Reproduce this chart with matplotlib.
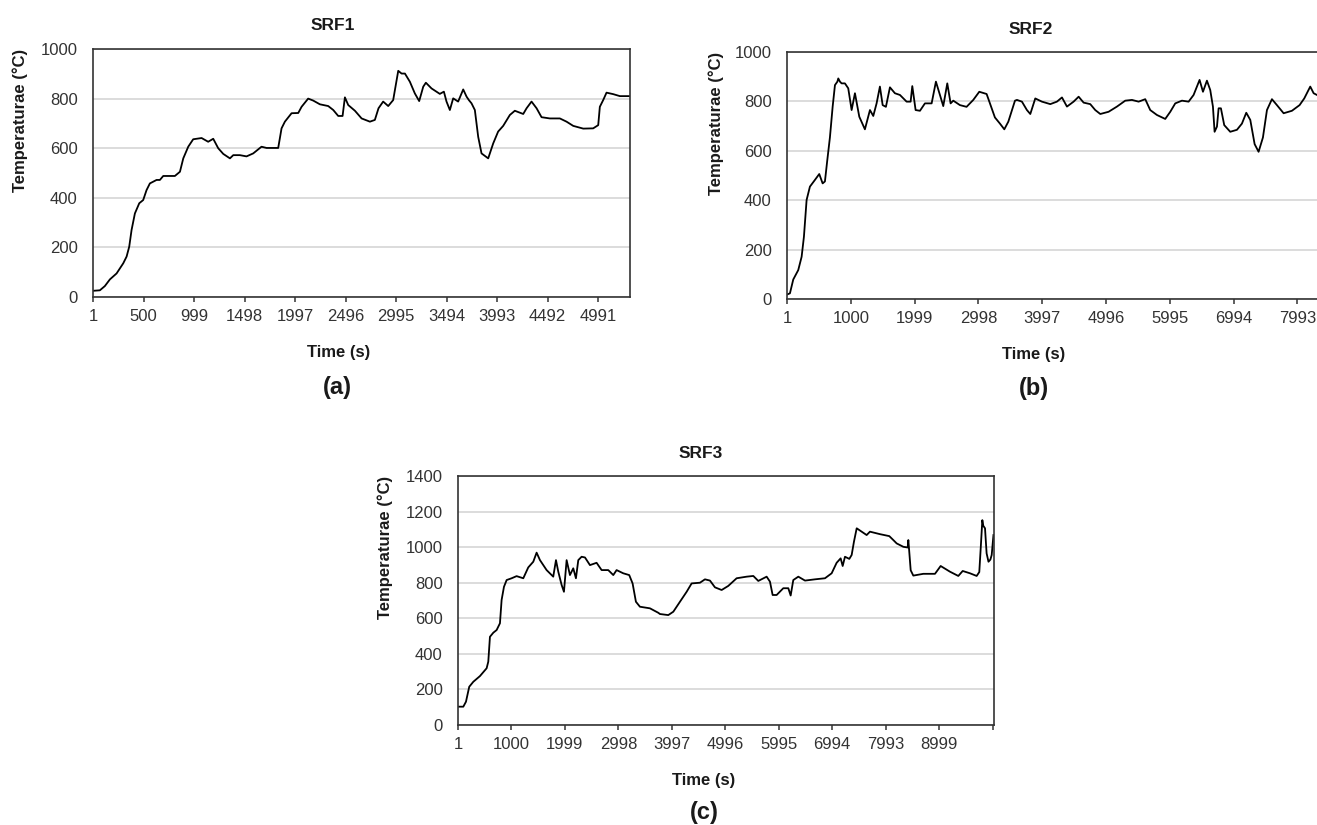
import matplotlib
matplotlib.use("Agg")
import matplotlib.pyplot as plt

plt.rcParams['font.family'] = ['Liberation Sans', 'DejaVu Sans']

# ---------------- data ----------------
srf1_time = [1, 69, 118, 168, 234, 300, 333, 359, 382, 415, 458, 497, 530, 563, 629, 662, 695, 810,
             860, 893, 942, 991, 1074, 1139, 1189, 1238, 1288, 1354, 1387, 1452, 1518, 1584, 1666,
             1716, 1831, 1864, 1897, 1963, 2029, 2062, 2127, 2177, 2243, 2325, 2375, 2424, 2467,
             2490, 2523, 2589, 2655, 2737, 2786, 2822, 2868, 2918, 2967, 3017, 3050, 3083, 3132,
             3181, 3224, 3264, 3290, 3346, 3428, 3468, 3494, 3527, 3560, 3609, 3659, 3692, 3715,
             3741, 3774, 3807, 3840, 3906, 3955, 4004, 4054, 4120, 4169, 4252, 4285, 4334, 4384,
             4433, 4515, 4614, 4680, 4746, 4845, 4943, 4993, 5009, 5042, 5075, 5141, 5207, 5306]
srf1_temp = [25, 27, 44, 71, 95, 136, 163, 203, 270, 337, 378, 391, 431, 458, 472, 472, 488, 488,
             505, 559, 606, 636, 641, 626, 638, 600, 577, 559, 572, 572, 567, 579, 606,
             601, 601, 680, 707, 741, 742, 767, 800, 792, 777, 770, 754, 730, 730,
             805, 774, 751, 720, 707, 714, 761, 788, 770, 794, 912, 901, 901, 868,
             821, 790, 848, 864, 841, 819, 828, 788, 754, 801, 788, 837, 808, 794,
             781, 754, 646, 579, 559, 619, 667, 690, 734, 751, 738, 761, 788, 761,
             725, 720, 720, 707, 690, 679, 680, 693, 767, 794, 824, 818, 810, 810]

srf2_time = [1, 47, 99, 177, 230, 266, 308, 360, 438, 506, 559, 595, 631, 673, 716, 752, 790, 804,
             830, 856, 908, 960, 1013, 1065, 1133, 1221, 1300, 1352, 1404, 1456, 1499, 1550, 1613,
             1691, 1770, 1874, 1937, 1963, 2015, 2083, 2161, 2266, 2333, 2396, 2448, 2511, 2563,
             2605, 2709, 2813, 2918, 3012, 3127, 3179, 3257, 3336, 3404, 3467, 3571, 3602, 3680,
             3758, 3811, 3889, 3993, 4124, 4228, 4307, 4385, 4489, 4568, 4646, 4750, 4828, 4907,
             5037, 5168, 5298, 5403, 5507, 5611, 5689, 5794, 5924, 6003, 6081, 6186, 6290, 6368,
             6462, 6515, 6577, 6629, 6671, 6697, 6734, 6760, 6796, 6848, 6942, 7047, 7125, 7193,
             7256, 7324, 7386, 7454, 7517, 7595, 7673, 7778, 7908, 8028, 8101, 8195, 8248, 8300, 8380]
srf2_temp = [18, 23, 79, 117, 171, 252, 401, 455, 482, 506, 468, 476, 560, 654, 779, 866, 880, 893,
             880, 873, 873, 853, 765, 833, 738, 687, 765, 741, 792, 860, 785, 778, 857,
             833, 826, 799, 799, 862, 765, 762, 792, 792, 880, 826, 781, 873, 792,
             803, 785, 778, 806, 839, 830, 792, 735, 710, 687, 718, 803, 806, 799,
             765, 749, 812, 799, 789, 799, 816, 779, 799, 819, 795, 789, 765, 749,
             758, 779, 803, 806, 799, 809, 765, 745, 729, 758, 792, 803, 799, 826,
             887, 839, 884, 846, 779, 677, 698, 772, 772, 704, 677, 685, 710, 754,
             725, 627, 596, 654, 765, 809, 785, 752, 762, 785, 812, 860, 833, 826, 820]

srf3_time = [1, 100, 150, 211, 287, 411, 536, 567, 598, 661, 723, 785, 816, 860, 910, 1003, 1096,
             1221, 1314, 1408, 1470, 1533, 1657, 1781, 1832, 1875, 1938, 1981, 2031, 2093, 2155,
             2205, 2249, 2311, 2374, 2467, 2591, 2685, 2809, 2903, 2965, 3089, 3201, 3264, 3326,
             3401, 3588, 3744, 3775, 3931, 4025, 4149, 4274, 4367, 4523, 4616, 4710, 4803, 4928,
             5052, 5208, 5395, 5520, 5613, 5769, 5831, 5881, 5956, 6080, 6174, 6218, 6267, 6361,
             6486, 6672, 6859, 6984, 7077, 7152, 7190, 7233, 7314, 7358, 7401, 7452, 7545, 7638,
             7700, 7887, 8061, 8136, 8199, 8323, 8405, 8417, 8429, 8461, 8510, 8697, 8915, 9021,
             9195, 9351, 9433, 9569, 9694, 9743, 9775, 9800, 9818, 9850, 9880, 9915, 9950, 9975, 10008]
srf3_temp = [103, 103, 131, 215, 243, 275, 319, 356, 496, 519, 534, 572, 703, 777, 815, 825, 837,
             825, 886, 918, 969, 927, 871, 834, 927, 862, 787, 749, 927, 843, 881,
             825, 927, 946, 942, 899, 912, 871, 871, 843, 871, 853, 843, 796, 693,
             665, 656, 631, 624, 618, 637, 693, 749, 796, 800, 819, 812, 774, 759,
             782, 825, 834, 838, 810, 834, 806, 731, 731, 769, 769, 728, 815, 834,
             812, 819, 825, 853, 912, 937, 894, 946, 934, 956, 1031, 1106, 1087, 1068,
             1087, 1073, 1062, 1040, 1021, 1002, 998, 1040, 995, 870, 840, 850, 850, 894,
             862, 838, 866, 853, 838, 860, 1021, 1152, 1120, 1106, 965, 918, 930, 956, 1068]

srf1_ticks = [1, 500, 999, 1498, 1997, 2496, 2995, 3494, 3993, 4492, 4991]
srf1_ticklabels = ["1", "500", "999", "1498", "1997", "2496", "2995", "3494", "3993", "4492", "4991"]
srf2_ticks = [1, 1000, 1999, 2998, 3997, 4996, 5995, 6994, 7993]
srf2_ticklabels = ["1", "1000", "1999", "2998", "3997", "4996", "5995", "6994", "7993"]
srf3_ticks = [1, 1000, 1999, 2998, 3997, 4996, 5995, 6994, 7993, 8992, 9991]
srf3_ticklabels = ["1", "1000", "1999", "2998", "3997", "4996", "5995", "6994", "7993", "8999", ""]

titles = ["SRF1", "SRF2", "SRF3"]
panel_labels = ["(a)", "(b)", "(c)"]
ylabel_text = "Temperaturae (°C)"
xlabel_text = "Time (s)"

# ---------------- layout (pixels) ----------------
W, H = 1317, 825
fig = plt.figure(figsize=(W / 100, H / 100), dpi=100)


def rect(l, t, r, b):
    return [l / W, 1 - b / H, (r - l) / W, (b - t) / H]


panels = [
    dict(box=(93, 49, 630, 297), x=srf1_time, y=srf1_temp, xlim=(1, 5307), ymax=1000,
         ticks=srf1_ticks, labels=srf1_ticklabels,
         title_xy=(333, 25), xlab_xy=(339, 353), plab_xy=(337, 388), ylab_x=20),
    dict(box=(787, 52, 1322, 299), x=srf2_time, y=srf2_temp, xlim=(1, 8379), ymax=1000,
         ticks=srf2_ticks, labels=srf2_ticklabels,
         title_xy=(1031, 29), xlab_xy=(1034, 355), plab_xy=(1034, 389), ylab_x=716),
    dict(box=(458, 476, 994, 725), x=srf3_time, y=srf3_temp, xlim=(1, 10018), ymax=1400,
         ticks=srf3_ticks, labels=srf3_ticklabels,
         title_xy=(701, 453), xlab_xy=(704, 781), plab_xy=(704, 813), ylab_x=385),
]

for i, p in enumerate(panels):
    l, t, r, b = p["box"]
    ax = fig.add_axes(rect(l, t, r, b))
    ax.plot(p["x"], p["y"], color="black", lw=1.3, solid_joinstyle="round")
    ax.set_xlim(*p["xlim"])
    ax.set_ylim(0, p["ymax"])
    ax.set_yticks(list(range(0, p["ymax"] + 1, 200)))
    ax.set_xticks(p["ticks"])
    ax.set_xticklabels(p["labels"])
    ax.yaxis.grid(True, color="#d9d9d9", lw=1.3)
    ax.set_axisbelow(True)
    ax.tick_params(axis="y", length=0, pad=11, labelsize=12, labelcolor="#333333")
    ax.tick_params(axis="x", length=3.8, width=1.1, pad=4.5, direction="out",
                   labelsize=12, labelcolor="#333333", color="#333333")
    for s in ax.spines.values():
        s.set_color("#333333")
        s.set_linewidth(1.2)

    fig.text(p["title_xy"][0] / W, 1 - p["title_xy"][1] / H, titles[i],
             ha="center", va="center", fontsize=12.5, fontweight="bold", color="#1a1a1a")
    fig.text(p["xlab_xy"][0] / W, 1 - p["xlab_xy"][1] / H, xlabel_text,
             ha="center", va="center", fontsize=12, fontweight="bold", color="#1a1a1a")
    fig.text(p["plab_xy"][0] / W, 1 - p["plab_xy"][1] / H, panel_labels[i],
             ha="center", va="center", fontsize=17, fontweight="bold", color="#1a1a1a")
    fig.text(p["ylab_x"] / W, 1 - t / H, ylabel_text, rotation=90,
             ha="center", va="top", fontsize=12, fontweight="bold", color="#1a1a1a")

fig.savefig("out.png", dpi=100, facecolor="white")
